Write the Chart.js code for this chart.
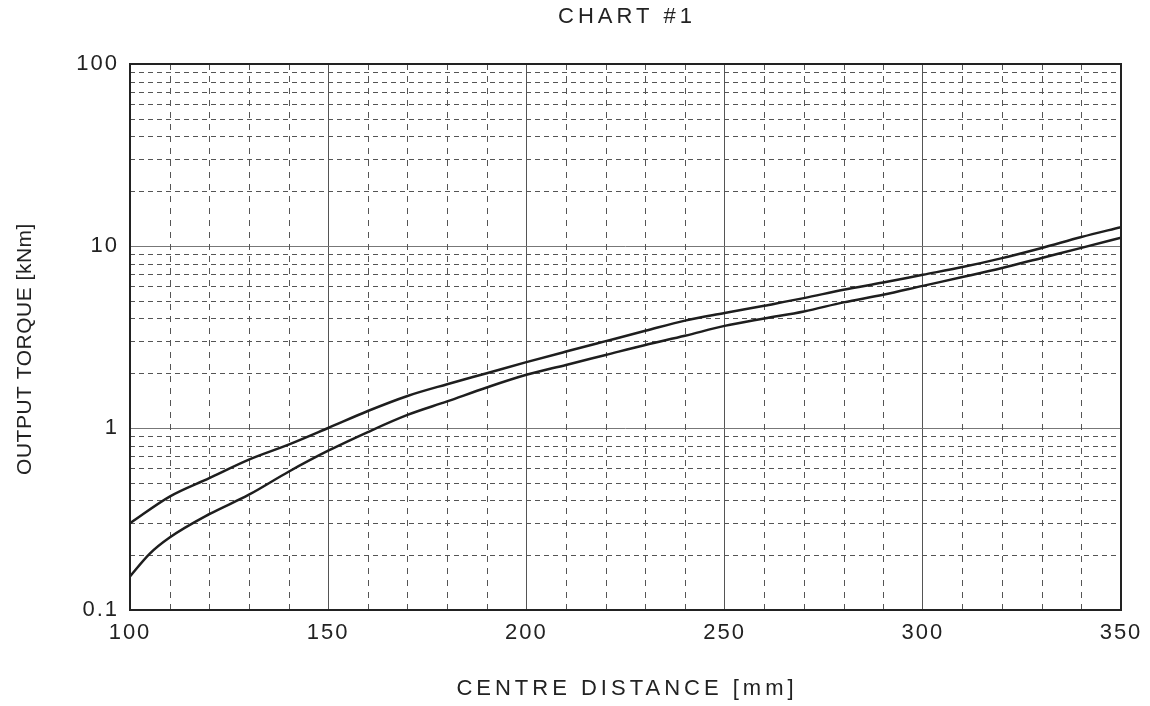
<!DOCTYPE html>
<html>
<head>
<meta charset="utf-8">
<script src="https://cdn.jsdelivr.net/npm/chart.js@4/dist/chart.umd.min.js"></script>
<style>
  html, body { margin: 0; padding: 0; background: #fff; }
  #wrap { width: 1150px; height: 706px; position: relative; }
</style>
</head>
<body>
<div id="wrap"><canvas id="torqueChart"></canvas></div>
<script>
// centre distance [mm] and output torque [kNm]
const distUpper = [100, 110, 120, 130, 140, 150, 160, 170, 180, 190, 200, 210, 220,
                   230, 240, 250, 260, 270, 280, 290, 300, 310, 320, 330, 340, 350];
const torqueUpper = [0.30, 0.42, 0.53, 0.67, 0.81, 1.0, 1.24, 1.50, 1.74, 2.0, 2.30, 2.63, 3.0,
                     3.42, 3.89, 4.28, 4.70, 5.17, 5.75, 6.3, 6.95, 7.66, 8.58, 9.76, 11.2, 12.7];

const distLower = [100, 105, 110, 120, 130, 140, 150, 160, 170, 180, 190, 200, 210, 220,
                   230, 240, 250, 260, 270, 280, 290, 300, 310, 320, 330, 340, 350];
const torqueLower = [0.153, 0.204, 0.25, 0.336, 0.43, 0.575, 0.75, 0.95, 1.18, 1.40, 1.67, 1.96, 2.22, 2.52,
                     2.86, 3.21, 3.64, 4.0, 4.37, 4.9, 5.4, 6.04, 6.75, 7.57, 8.6, 9.77, 11.1];

const xMajorLabels = [100, 150, 200, 250, 300, 350];
const yDecades = [0.1, 1, 10, 100];

const FONT = "'Liberation Sans', Arial, sans-serif";

function toPoints(xs, ys) {
    return xs.map((x, i) => ({ x: x, y: ys[i] }));
}

// every 1..9 step in each decade for the log grid
const yGridValues = [];
yDecades.slice(0, -1).forEach(d => {
    for (let k = 1; k < 10; k++) yGridValues.push(+(d * k).toPrecision(3));
});
yGridValues.push(100);

const isDecade = v => yDecades.some(d => Math.abs(d - v) < 1e-9);

// dashed minor grid, frame and titles
const gridPlugin = {
    id: 'paperGrid',
    beforeDraw(chart) {
        // spaced-out lettering like the scanned chart
        chart.ctx.letterSpacing = '2px';
    },
    beforeDatasetsDraw(chart) {
        const { ctx, chartArea: a, scales: { x, y } } = chart;
        ctx.save();
        ctx.strokeStyle = '#555';
        ctx.lineWidth = 1;
        ctx.setLineDash([5, 4]);
        yGridValues.forEach(v => {
            if (isDecade(v)) return;
            const py = Math.round(y.getPixelForValue(v)) + 0.5;
            ctx.beginPath();
            ctx.moveTo(a.left, py);
            ctx.lineTo(a.right, py);
            ctx.stroke();
        });
        ctx.setLineDash([6, 6]);
        for (let v = 110; v < 350; v += 10) {
            if (v % 50 === 0) continue;
            const px = Math.round(x.getPixelForValue(v)) + 0.5;
            ctx.beginPath();
            ctx.moveTo(px, a.top);
            ctx.lineTo(px, a.bottom);
            ctx.stroke();
        }
        ctx.restore();
    },
    afterDatasetsDraw(chart) {
        const { ctx, chartArea: a } = chart;
        ctx.save();
        ctx.strokeStyle = '#222';
        ctx.lineWidth = 2;
        ctx.strokeRect(a.left, a.top, a.right - a.left, a.bottom - a.top);
        ctx.restore();
    },
    afterDraw(chart) {
        const ctx = chart.ctx;
        ctx.save();
        ctx.fillStyle = '#222';
        ctx.textAlign = 'center';
        ctx.textBaseline = 'middle';
        ctx.font = '22px ' + FONT;
        ctx.letterSpacing = '4px';
        ctx.fillText('CHART #1', 627, 17);
        ctx.fillText('CENTRE DISTANCE [mm]', 627, 689);
        ctx.font = '21px ' + FONT;
        ctx.letterSpacing = '0.5px';
        ctx.translate(25, 349);
        ctx.rotate(-Math.PI / 2);
        ctx.fillText('OUTPUT TORQUE [kNm]', 0, 0);
        ctx.restore();
        ctx.letterSpacing = '0px';
    }
};

const lineStyle = {
    borderColor: '#1e1e1e',
    borderWidth: 2.5,
    pointRadius: 0,
    fill: false,
    cubicInterpolationMode: 'monotone'
};

new Chart(document.getElementById('torqueChart').getContext('2d'), {
    type: 'line',
    data: {
        datasets: [
            { label: 'upper', data: toPoints(distUpper, torqueUpper), ...lineStyle },
            { label: 'lower', data: toPoints(distLower, torqueLower), ...lineStyle }
        ]
    },
    options: {
        responsive: true,
        maintainAspectRatio: false,
        animation: false,
        layout: { padding: { top: 64, right: 29, left: 0, bottom: 0 } },
        plugins: {
            legend: { display: false },
            tooltip: { enabled: false }
        },
        scales: {
            x: {
                type: 'linear',
                min: 100,
                max: 350,
                afterFit: s => { s.height = 96; },
                afterBuildTicks: s => {
                    s.ticks = xMajorLabels.map(v => ({ value: v }));
                },
                ticks: {
                    color: '#222',
                    padding: 10,
                    maxRotation: 0,
                    font: { family: FONT, size: 22 },
                    callback: v => String(v)
                },
                grid: {
                    drawTicks: false,
                    lineWidth: 1,
                    color: ctx => (ctx.tick && ctx.tick.value > 100 && ctx.tick.value < 350) ? '#555' : 'rgba(0,0,0,0)'
                },
                border: { display: false }
            },
            y: {
                type: 'logarithmic',
                min: 0.1,
                max: 100,
                afterFit: s => { s.width = 130; },
                afterBuildTicks: s => {
                    s.ticks = yGridValues.map(v => ({ value: v }));
                },
                ticks: {
                    color: '#222',
                    padding: 11,
                    autoSkip: false,
                    font: { family: FONT, size: 22 },
                    callback: v => isDecade(v) ? String(v) : ''
                },
                grid: {
                    drawTicks: false,
                    lineWidth: 1,
                    color: ctx => (ctx.tick && (ctx.tick.value === 1 || ctx.tick.value === 10)) ? '#777' : 'rgba(0,0,0,0)'
                },
                border: { display: false }
            }
        }
    },
    plugins: [gridPlugin]
});
</script>
</body>
</html>
